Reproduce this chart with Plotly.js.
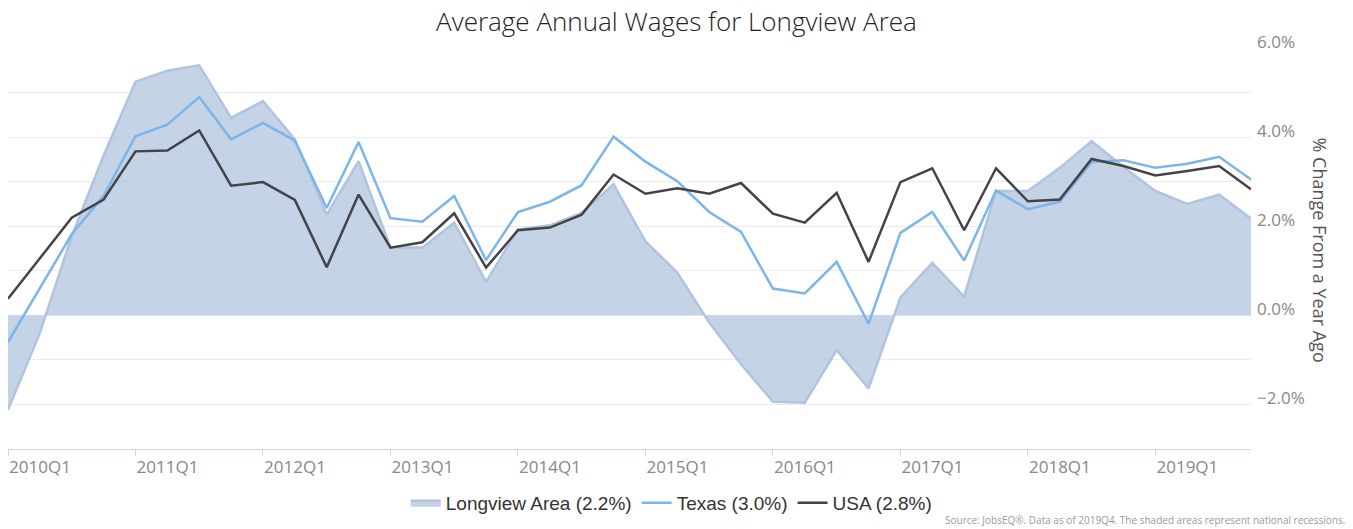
<!DOCTYPE html>
<html>
<head>
<meta charset="utf-8">
<script src="https://cdn.plot.ly/plotly-3.0.1.min.js"></script>
<style>html,body{margin:0;padding:0;background:#fff;}#chart{width:1353px;height:529px;}</style>
</head>
<body>
<div id="chart"></div>
<script>
const quarters = ["2010Q1","2010Q2","2010Q3","2010Q4","2011Q1","2011Q2","2011Q3","2011Q4",
  "2012Q1","2012Q2","2012Q3","2012Q4","2013Q1","2013Q2","2013Q3","2013Q4",
  "2014Q1","2014Q2","2014Q3","2014Q4","2015Q1","2015Q2","2015Q3","2015Q4",
  "2016Q1","2016Q2","2016Q3","2016Q4","2017Q1","2017Q2","2017Q3","2017Q4",
  "2018Q1","2018Q2","2018Q3","2018Q4","2019Q1","2019Q2","2019Q3","2019Q4"];
const longview = [-2.12,-0.40,1.78,3.59,5.24,5.49,5.61,4.43,4.81,3.95,2.26,3.46,1.52,1.52,2.08,0.75,
  1.93,2.02,2.30,2.94,1.66,0.96,-0.16,-1.10,-1.94,-1.96,-0.78,-1.64,0.40,1.18,0.42,2.79,
  2.79,3.31,3.91,3.33,2.79,2.50,2.71,2.17];
const texas = [-0.60,0.62,1.82,2.68,4.02,4.28,4.90,3.95,4.32,3.92,2.41,3.89,2.18,2.10,2.68,1.24,
  2.32,2.55,2.92,4.01,3.45,3.01,2.32,1.87,0.60,0.49,1.20,-0.19,1.85,2.32,1.23,2.80,
  2.38,2.55,3.44,3.48,3.31,3.40,3.56,3.05];
const usa = [0.37,1.27,2.19,2.60,3.68,3.70,4.15,2.91,2.99,2.59,1.08,2.71,1.52,1.64,2.29,1.07,
  1.91,1.97,2.26,3.16,2.73,2.85,2.73,2.97,2.28,2.08,2.75,1.20,2.99,3.30,1.91,3.30,
  2.56,2.60,3.51,3.35,3.14,3.24,3.35,2.83];
const seriesNames = ["Longview Area (2.2%)","Texas (3.0%)","USA (2.8%)"];
const xTickVals = ["2010Q1","2011Q1","2012Q1","2013Q1","2014Q1","2015Q1","2016Q1","2017Q1","2018Q1","2019Q1"];
const yTickVals = [-3,-2,-1,0,1,2,3,4,5,6];
const yTickText = ["","\u22122.0%","","0.0%","","2.0%","","4.0%","","6.0%"];

const traces = [
  {x: quarters, y: longview, name: seriesNames[0], type: "scatter", mode: "lines",
   fill: "tozeroy", fillcolor: "rgba(176,196,222,0.75)",
   line: {color: "#b0c4de", width: 2.5}},
  {x: quarters, y: texas, name: seriesNames[1], type: "scatter", mode: "lines",
   line: {color: "#7cb5ec", width: 2.5}},
  {x: quarters, y: usa, name: seriesNames[2], type: "scatter", mode: "lines",
   line: {color: "#434348", width: 2.5}}
];

const layout = {
  width: 1353, height: 529,
  margin: {l: 8, r: 102, t: 48, b: 79},
  paper_bgcolor: "#fff", plot_bgcolor: "#fff",
  font: {family: "Open Sans, sans-serif", color: "#888"},
  title: {text: "Average Annual Wages for Longview Area", x: 0.5, xanchor: "center",
          xref: "container", y: 1 - 22/529, yref: "container", yanchor: "middle",
          font: {family: "Open Sans, sans-serif", size: 26, color: "#222", weight: 300}},
  xaxis: {type: "category", categoryorder: "array", categoryarray: quarters,
          range: [0, 39], tickvals: xTickVals, ticktext: xTickVals,
          showgrid: false, zeroline: false, showline: true, linecolor: "#ccd6eb", linewidth: 1,
          ticks: "outside", ticklen: 6, tickcolor: "#ccd6eb", tickwidth: 1,
          tickfont: {size: 17, color: "#888", family: "Open Sans, sans-serif"},
          ticklabelshift: 32, ticklabelstandoff: -3, fixedrange: true},
  yaxis: {side: "right", range: [-3, 6], tickvals: yTickVals, ticktext: yTickText,
          showgrid: true, gridcolor: "#ececec", gridwidth: 1, zeroline: false, showline: false,
          ticks: "", tickfont: {size: 17, color: "#888", family: "Open Sans, sans-serif"},
          ticklabelshift: -6, ticklabelstandoff: 5, fixedrange: true},
  showlegend: true,
  legend: {orientation: "h", x: 0.534, xanchor: "center", y: (450-503)/402, yanchor: "middle",
           font: {family: "Liberation Sans, Arial, sans-serif", size: 19, color: "#333"},
           itemwidth: 30, traceorder: "normal"},
  annotations: [
    {text: "% Change From a Year Ago", xref: "paper", yref: "paper",
     x: (1320-8)/1243, y: (450-250)/402, xanchor: "center", yanchor: "middle",
     textangle: 90, showarrow: false,
     font: {family: "Open Sans, sans-serif", size: 18, color: "#555"}},
    {text: "Source: JobsEQ\u00ae. Data as of 2019Q4. The shaded areas represent national recessions.",
     xref: "paper", yref: "paper", x: (1347-8)/1243, y: (450-521)/402,
     xanchor: "right", yanchor: "middle", showarrow: false,
     font: {family: "Open Sans, sans-serif", size: 10, color: "#999"}}
  ]
};

Plotly.newPlot("chart", traces, layout, {staticPlot: true, displayModeBar: false});
</script>
</body>
</html>
